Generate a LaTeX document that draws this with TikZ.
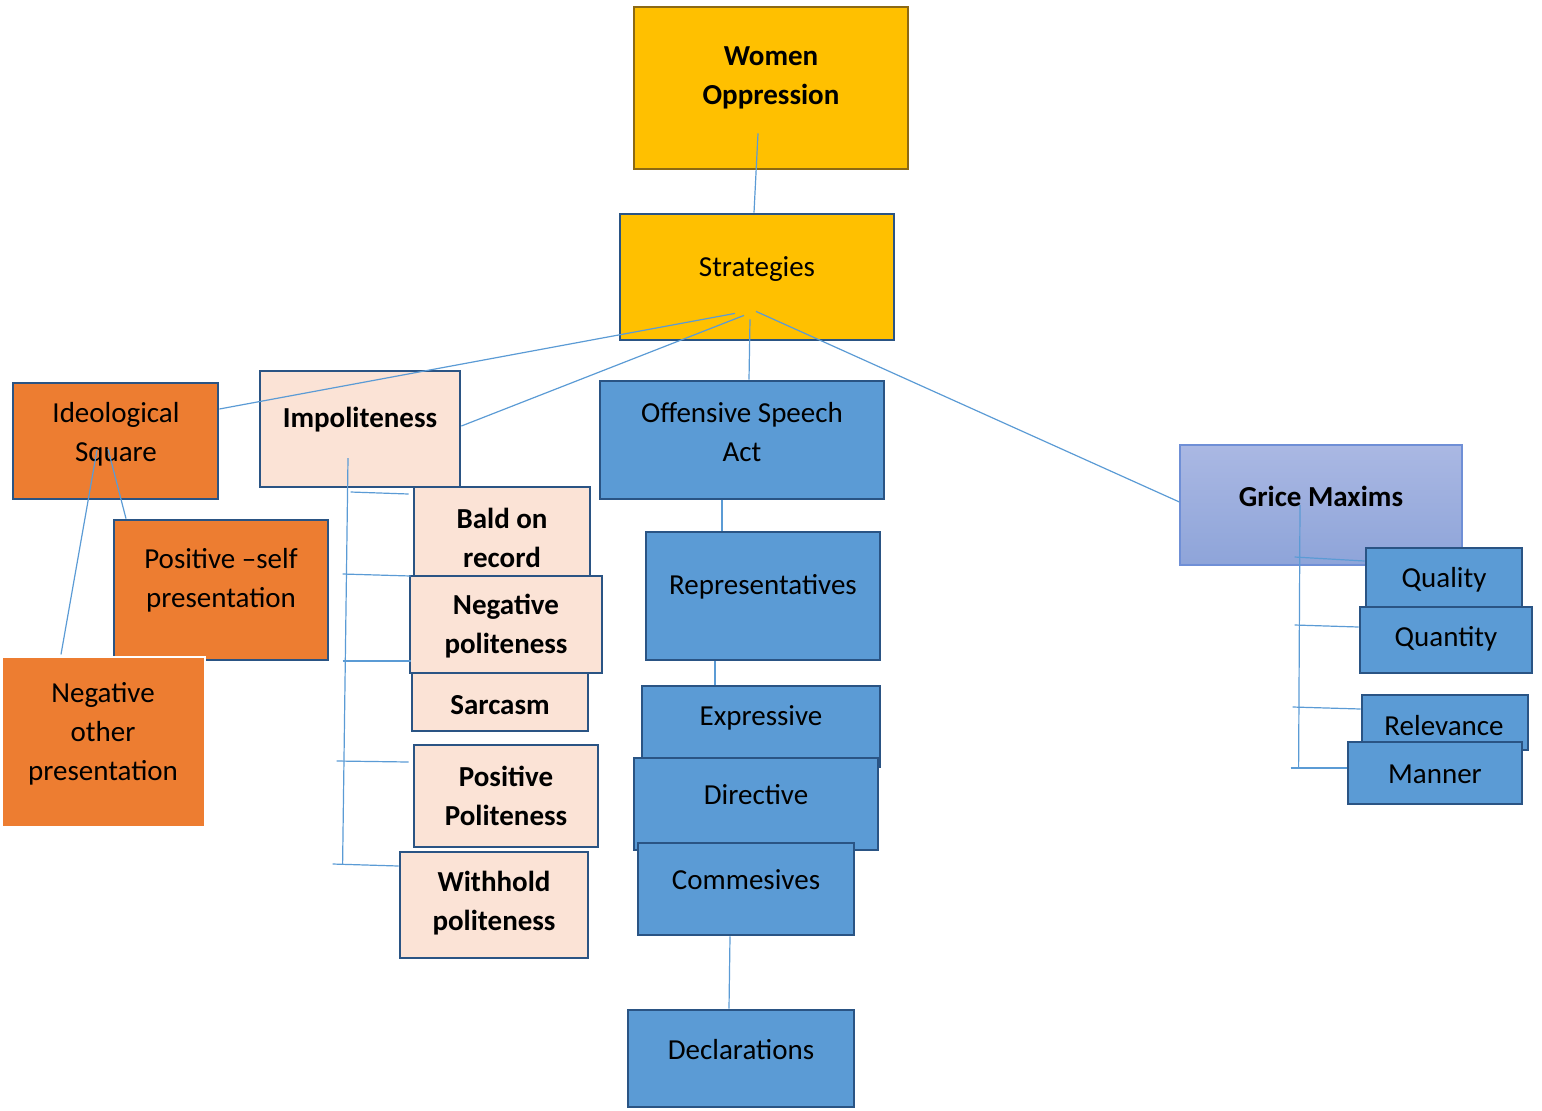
\documentclass[tikz,border=0pt]{standalone}
\usepackage{fontspec}
\setmainfont{Carlito}
\usetikzlibrary{calc}
\definecolor{pGold}{RGB}{255,192,0}
\definecolor{pGoldEdge}{RGB}{140,105,20}
\definecolor{pNavy}{RGB}{42,84,132}
\definecolor{pOrange}{RGB}{237,125,49}
\definecolor{pPeach}{RGB}{251,227,214}
\definecolor{pBlue}{RGB}{91,155,213}
\definecolor{pLavTop}{RGB}{170,184,227}
\definecolor{pLavBot}{RGB}{142,164,217}
\definecolor{pLavEdge}{RGB}{111,143,214}
\tikzset{
    box/.style={rectangle, draw=pNavy, line width=1.4pt, inner sep=0pt},
    gbox/.style={box, fill=pGold},
    obox/.style={box, fill=pOrange},
    pbox/.style={box, fill=pPeach},
    bbox/.style={box, fill=pBlue},
    lbl/.style={align=center, inner sep=0pt, yshift=-1pt, font=\fontsize{14.5}{19.5}\selectfont},
    blbl/.style={lbl, font=\fontsize{14.5}{19.5}\selectfont\bfseries},
    link/.style={draw=pBlue, line width=0.6pt}
}

\begin{document}
\begin{tikzpicture}[x=0.5pt,y=-0.5pt]
\useasboundingbox (0,0) rectangle (1542,1110);
\node[gbox, draw=pGoldEdge, minimum width=137pt, minimum height=81pt] (women) at (771,88) {};
\node[gbox, minimum width=137pt, minimum height=63pt] (strat) at (757,277) {};
\node[obox, minimum width=102.5pt, minimum height=58pt] (ideo) at (115.5,441) {};
\node[pbox, minimum width=100pt, minimum height=58pt] (impol) at (360,429) {};
\node[obox, minimum width=107pt, minimum height=70pt] (posself) at (221,590) {};
\node[obox, draw=white, line width=0.6pt, minimum width=101.5pt, minimum height=85pt] (negother) at (103.5,742) {};
\node[pbox, minimum width=88pt, minimum height=45pt] (bald) at (502,532) {};
\node[pbox, minimum width=88pt, minimum height=29pt] (sarc) at (500,702) {};
\node[pbox, minimum width=96pt, minimum height=48.5pt] (negpol) at (506,624.5) {};
\node[pbox, minimum width=92pt, minimum height=51pt] (pospol) at (506,796) {};
\node[pbox, minimum width=94pt, minimum height=53pt] (withh) at (494,905) {};
\node[bbox, minimum width=142pt, minimum height=59pt] (osa) at (742,440) {};
\node[bbox, minimum width=117pt, minimum height=64pt] (rep) at (763,596) {};
\node[bbox, minimum width=119pt, minimum height=40.5pt] (expr) at (761,726.5) {};
\node[bbox, minimum width=122pt, minimum height=46pt] (dir) at (756,804) {};
\node[bbox, minimum width=108pt, minimum height=46pt] (comm) at (746,889) {};
\node[bbox, minimum width=113pt, minimum height=48.5pt] (decl) at (741,1058.5) {};
\node[box, draw=pLavEdge, line width=0.6pt, top color=pLavTop, bottom color=pLavBot, minimum width=141pt, minimum height=60pt] (grice) at (1321,505) {};
\node[bbox, minimum width=78pt, minimum height=29.5pt] (quality) at (1444,577.5) {};
\node[bbox, minimum width=86pt, minimum height=33pt] (quantity) at (1446,640) {};
\node[bbox, minimum width=83pt, minimum height=27.5pt] (relev) at (1445,722.5) {};
\node[bbox, minimum width=87pt, minimum height=31pt] (manner) at (1435,773) {};

\node[blbl] (womenT) at (771,76) {Women\\Oppression};
\node[lbl] (stratT) at (757,267) {Strategies};
\node[lbl] (ideoT) at (116,432) {Ideological\\Square};
\node[blbl] (impolT) at (360,418) {Impoliteness};
\node[lbl] (posselfT) at (221,578.5) {Positive –self\\presentation};
\node[lbl] (negotherT) at (103,732) {Negative\\other\\presentation};
\node[blbl] (baldT) at (502,536) {Bald on\\record};
\node[blbl] (negpolT) at (506,624.5) {Negative\\politeness};
\node[blbl] (sarcT) at (500,703) {Sarcasm};
\node[blbl] (pospolT) at (506,793.5) {Positive\\Politeness};
\node[blbl] (withhT) at (494,901.5) {Withhold\\politeness};
\node[lbl] (osaT) at (742,430) {Offensive Speech\\Act};
\node[lbl] (repT) at (763,585) {Representatives};
\node[lbl] (exprT) at (761,716) {Expressive};
\node[lbl] (dirT) at (756,793) {Directive};
\node[lbl] (commT) at (746,878) {Commesives};
\node[lbl] (declT) at (741,1048) {Declarations};
\node[blbl] (griceT) at (1321,494) {Grice Maxims};
\node[lbl] (qualityT) at (1444,578) {Quality};
\node[lbl] (quantityT) at (1446,637) {Quantity};
\node[lbl] (relevT) at (1444,724) {Relevance};
\node[lbl] (mannerT) at (1435,772) {Manner};

\draw[link] ($(women.south)+(-13,-37)$) -- ($(strat.north)+(-3,0)$);
\draw[link] ($(strat.south)+(-22,-28)$) -- ($(ideo.east)+(0,-32)$);
\draw[link] ($(strat.south)+(-13,-26)$) -- ($(impol.east)+(0,-3)$);
\draw[link] ($(strat.south)+(-7,-22)$) -- ($(osa.north)+(7,0)$);
\draw[link] ($(strat.south)+(-1,-30)$) -- ($(grice.west)+(0,-3)$);
\draw[link] ($(osa.south)+(-20,0)$) -- ($(rep.north)+(-41,0)$);
\draw[link] ($(rep.south)+(-48,0)$) -- ($(expr.north)+(-46,0)$);
\draw[link] ($(comm.south)+(-16,0)$) -- ($(decl.north)+(-12,0)$);
\draw[link] ($(ideo.center)+(-7.5,8)$) -- ($(posself.north)+(-95,0)$);
\draw[link] ($(ideo.center)+(-18.5,9)$) -- ($(negother.north)+(-42.5,-2)$);
\draw[link] ($(impol.center)+(-12,29)$) -- ($(withh.west)+(-56,-41)$);
\draw[link] ($(bald.west)+(-62,-40)$) -- ($(bald.west)+(-4,-38)$);
\draw[link] ($(negpol.west)+(-66,-50.5)$) -- ($(negpol.west)+(2,-48.5)$);
\draw[link] ($(negpol.west)+(-66,36.5)$) -- ($(negpol.west)+(2,36.5)$);
\draw[link] ($(pospol.west)+(-76,-35)$) -- ($(pospol.west)+(-4,-34)$);
\draw[link] ($(withh.west)+(-66,-41)$) -- ($(withh.west)+(0,-39)$);
\draw[link] ($(grice.center)+(-21,0)$) -- ($(manner.west)+(-48,-5)$);
\draw[link] ($(quality.west)+(-70,-20.5)$) -- ($(quality.west)+(0,-16.5)$);
\draw[link] ($(quantity.west)+(-64,-15)$) -- ($(quantity.west)+(0,-13)$);
\draw[link] ($(relev.west)+(-68,-15.5)$) -- ($(relev.west)+(0,-13.5)$);
\draw[link] ($(manner.west)+(-56,-5)$) -- ($(manner.west)+(0,-5)$);
\end{tikzpicture}
\end{document}
